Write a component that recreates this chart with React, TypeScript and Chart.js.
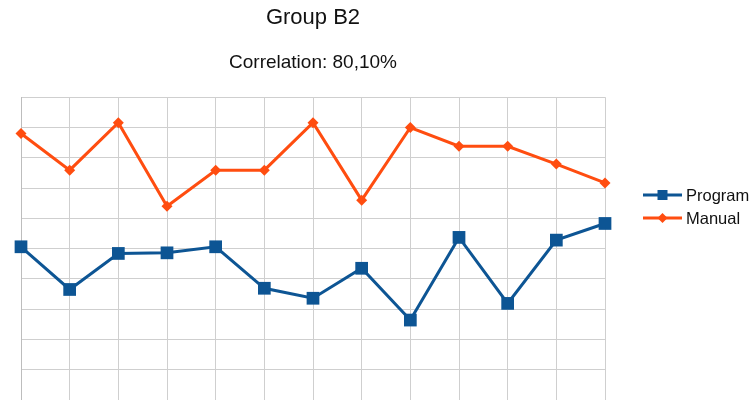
import React, { useEffect, useRef } from "react";
import { Chart, registerables } from "chart.js";

Chart.register(...registerables);

const categories = ["1", "2", "3", "4", "5", "6", "7", "8", "9", "10", "11", "12", "13"];
const programValues = [5.06, 3.65, 4.84, 4.86, 5.06, 3.69, 3.36, 4.35, 2.64, 5.37, 3.19, 5.28, 5.83];
const manualValues = [8.8, 7.59, 9.16, 6.4, 7.59, 7.59, 9.16, 6.6, 9.0, 8.38, 8.38, 7.79, 7.17];
const seriesNames = ["Program", "Manual"];
const titleText = "Group B2";
const subtitleText = "Correlation: 80,10%";

const BLUE = "#0d5594";
const ORANGE = "#ff4d10";
const FONT = "'Liberation Sans', Arial, sans-serif";

const legendPlugin = {
  id: "customLegend",
  afterDraw(chart: any) {
    const ctx = chart.ctx;
    const area = chart.chartArea;
    const x0 = area.right + 38;
    const x1 = area.right + 77;
    const items = [
      { label: seriesNames[0], color: BLUE, style: "rect", y: 195 },
      { label: seriesNames[1], color: ORANGE, style: "diamond", y: 218 },
    ];
    ctx.save();
    items.forEach((it) => {
      ctx.strokeStyle = it.color;
      ctx.fillStyle = it.color;
      ctx.lineWidth = 3;
      ctx.beginPath();
      ctx.moveTo(x0, it.y);
      ctx.lineTo(x1, it.y);
      ctx.stroke();
      const cx = (x0 + x1) / 2;
      ctx.beginPath();
      if (it.style === "rect") {
        ctx.rect(cx - 5, it.y - 5, 10, 10);
      } else {
        ctx.moveTo(cx - 5, it.y);
        ctx.lineTo(cx, it.y - 5);
        ctx.lineTo(cx + 5, it.y);
        ctx.lineTo(cx, it.y + 5);
        ctx.closePath();
      }
      ctx.fill();
      ctx.fillStyle = "#111";
      ctx.font = `16.5px ${FONT}`;
      ctx.textBaseline = "middle";
      ctx.textAlign = "left";
      ctx.fillText(it.label, x1 + 4, it.y + 1);
    });
    ctx.restore();
  },
};

export default function App() {
  const ref = useRef<HTMLCanvasElement | null>(null);
  useEffect(() => {
    if (!ref.current) return;
    const chart = new Chart(ref.current, {
      type: "line",
      data: {
        labels: categories,
        datasets: [
          {
            label: seriesNames[0],
            data: programValues,
            borderColor: BLUE,
            backgroundColor: BLUE,
            borderWidth: 3,
            pointStyle: "rect",
            pointRadius: 9,
            pointHoverRadius: 9,
            pointBorderWidth: 0,
            tension: 0,
            clip: false,
          },
          {
            label: seriesNames[1],
            data: manualValues,
            borderColor: ORANGE,
            backgroundColor: ORANGE,
            borderWidth: 3,
            pointStyle: "rectRot",
            pointRadius: 5.5,
            pointHoverRadius: 5.5,
            pointBorderWidth: 0,
            tension: 0,
            clip: false,
          },
        ],
      },
      options: {
        animation: false,
        responsive: false,
        maintainAspectRatio: false,
        layout: { padding: { left: 21, right: 147, top: 0, bottom: 0 } },
        plugins: {
          legend: { display: false },
          tooltip: { enabled: false },
          title: {
            display: true,
            text: titleText,
            color: "#111",
            font: { family: FONT, size: 22, weight: "normal" },
            padding: { top: 5, bottom: 10 },
          },
          subtitle: {
            display: true,
            text: subtitleText,
            color: "#111",
            font: { family: FONT, size: 19, weight: "normal" },
            padding: { top: 10, bottom: 23 },
          },
        },
        scales: {
          x: {
            offset: false,
            ticks: { display: false },
            grid: { color: "#cfcfcf", lineWidth: 1, drawTicks: false, tickLength: 0 },
            border: { display: true, color: "#bdbdbd" },
          },
          y: {
            min: 0,
            max: 10,
            ticks: { display: false, stepSize: 1 },
            grid: { color: "#cfcfcf", lineWidth: 1, drawTicks: false, tickLength: 0 },
            border: { display: true, color: "#bdbdbd" },
          },
        },
      },
      plugins: [legendPlugin],
    } as any);
    return () => chart.destroy();
  }, []);
  return (
    <div style={{ position: "absolute", left: 0, top: 0, width: 752, height: 400, overflow: "hidden", background: "#fff" }}>
      <canvas ref={ref} width={752} height={409} style={{ width: 752, height: 409, display: "block" }} />
    </div>
  );
}
